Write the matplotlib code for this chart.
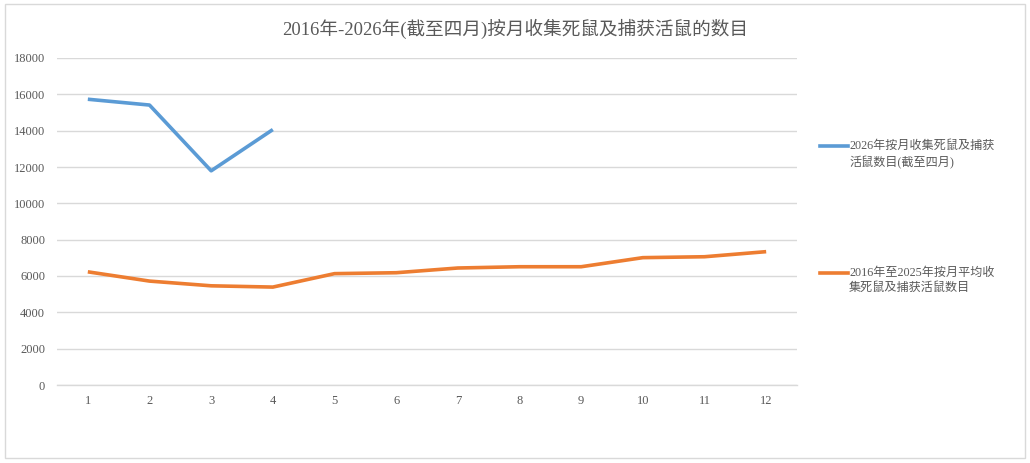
import matplotlib
matplotlib.use("Agg")
import matplotlib.pyplot as plt
from matplotlib.lines import Line2D
from matplotlib.patches import Rectangle

months = [1, 2, 3, 4, 5, 6, 7, 8, 9, 10, 11, 12]
months_2026 = [1, 2, 3, 4]
values_2026 = [15730, 15410, 11790, 14060]
avg_2016_2025 = [6230, 5720, 5460, 5390, 6130, 6180, 6440, 6510, 6510, 7010, 7060, 7340]
yticks = [0, 2000, 4000, 6000, 8000, 10000, 12000, 14000, 16000, 18000]
title = "2016年-2026年(截至四月)按月收集死鼠及捕获活鼠的数目"
label_2026 = "2026年按月收集死鼠及捕获\n活鼠数目(截至四月)"
label_avg = "2016年至2025年按月平均收\n集死鼠及捕获活鼠数目"

blue = "#5b9bd5"
orange = "#ed7d31"
grid_c = "#d9d9d9"
text_c = "#595959"
fam = ["Liberation Serif", "Noto Sans CJK SC", "DejaVu Sans"]

fig = plt.figure(figsize=(10.30, 4.63), dpi=100)
fig.patch.set_facecolor("white")
fig.add_artist(Rectangle((5 / 1030, 1 - 458 / 463), 1020 / 1030, 454 / 463,
                         transform=fig.transFigure, fill=False,
                         edgecolor=grid_c, linewidth=1.0))

ax = fig.add_axes([57 / 1030, 1 - 385 / 463, 740 / 1030, 327 / 463])
ax.plot(months_2026, values_2026, color=blue, linewidth=2.6,
        solid_joinstyle="round", solid_capstyle="butt")
ax.plot(months, avg_2016_2025, color=orange, linewidth=2.6,
        solid_joinstyle="round", solid_capstyle="butt")

ax.set_xlim(0.5, 12.5)
ax.set_ylim(0, 18000)
ax.set_yticks(yticks)
ax.set_xticks(months)
ax.set_yticklabels([str(v) for v in yticks])
ax.set_xticklabels([str(m) for m in months])
for lab in ax.get_xticklabels() + ax.get_yticklabels():
    lab.set_family(fam)
    lab.set_fontsize(9)
    lab.set_color(text_c)
ax.tick_params(axis="both", length=0)
ax.tick_params(axis="y", pad=8.5)
ax.tick_params(axis="x", pad=7)
ax.grid(axis="y", color=grid_c, linewidth=1.0)
ax.set_axisbelow(True)
for s in ["top", "right", "left"]:
    ax.spines[s].set_visible(False)
ax.spines["bottom"].set_color(grid_c)
ax.spines["bottom"].set_linewidth(1.0)

fig.text(515 / 1030, 1 - 28.5 / 463, title, ha="center", va="center",
         fontsize=13.4, color=text_c, family=fam)

# legend
for y_px, col, lab in [(146, blue, label_2026), (273, orange, label_avg)]:
    yf = 1 - y_px / 463
    fig.add_artist(Line2D([820 / 1030, 848 / 1030], [yf, yf],
                          transform=fig.transFigure, color=col, linewidth=2.6))
    fig.text(849 / 1030, 1 - (y_px - 6) / 463, lab, ha="left", va="top",
             fontsize=8.7, color=text_c, family=fam, linespacing=1.35)

fig.savefig("out.png", dpi=100, facecolor="white")
